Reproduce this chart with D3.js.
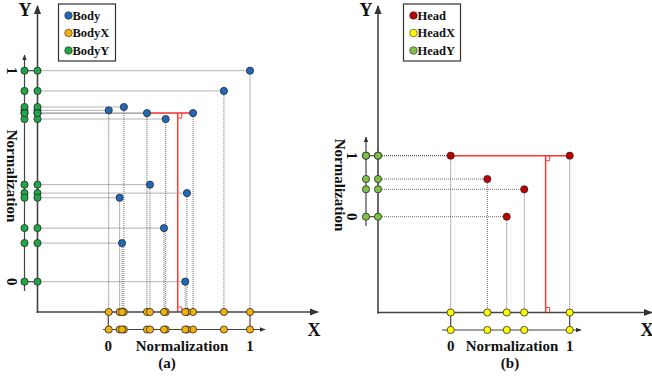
<!DOCTYPE html>
<html>
<head>
<meta charset="utf-8">
<script src="https://cdn.jsdelivr.net/npm/d3@7"></script>
<style>
  body { margin: 0; background: #fff; }
  svg text { font-family: "Liberation Serif", "Times New Roman", serif; font-weight: bold; fill: #111; }
</style>
</head>
<body>
<div id="chart"></div>
<script>
// normalized coordinates
const bodyX = [1, 0.816, 0.003, 0.11, 0.273, 0.405, 0.598, 0.294, 0.555, 0.08, 0.393, 0.097, 0.543];
const bodyY = [1, 0.904, 0.812, 0.828, 0.799, 0.771, 0.799, 0.460, 0.420, 0.398, 0.254, 0.183, 0];
const headX = [0, 1, 0.308, 0.618, 0.471];
const headY = [1, 1, 0.618, 0.449, 0];
// red span: [x start, x end, y, x of vertical]
const bodySpan = [0.273, 0.598, 0.799, 0.49];
const headSpan = [0, 1, 1, 0.798];
const bodyLegend = ["Body", "BodyX", "BodyY"];
const headLegend = ["Head", "HeadX", "HeadY"];
const normTicks = ["0", "1"];

function init() {
    const svg = d3.select("#chart").append("svg")
        .attr("width", 652).attr("height", 379);

    const defs = svg.append("defs");
    defs.append("marker")
        .attr("id", "arrow")
        .attr("viewBox", "0 0 10 10")
        .attr("refX", 9).attr("refY", 5)
        .attr("markerWidth", 9).attr("markerHeight", 9)
        .attr("markerUnits", "userSpaceOnUse")
        .attr("orient", "auto")
        .append("path").attr("d", "M0,1 L10,5 L0,9 Z").attr("fill", "#333");
    defs.append("marker")
        .attr("id", "arrowS")
        .attr("viewBox", "0 0 10 10")
        .attr("refX", 9).attr("refY", 5)
        .attr("markerWidth", 6).attr("markerHeight", 6)
        .attr("markerUnits", "userSpaceOnUse")
        .attr("orient", "auto")
        .append("path").attr("d", "M0,1 L10,5 L0,9 Z").attr("fill", "#333");

    drawPanel(svg, {
        xs: bodyX, ys: bodyY, span: bodySpan, names: bodyLegend,
        colors: ["#1f6ab8", "#f2b10c", "#1fa646"],
        xRange: [108.3, 250], yRange: [281.7, 70.7],
        axX: 37.5, axTop: 6, axY: 312, axRight: 318,
        secX: 24.5, secTop: 55, secBottom: 291,
        secY: 329.5, secLeft: 103, secRight: 265,
        legend: [58.5, 4],
        yLabel: [25, 16], xLabel: [314, 336], sub: "(a)", subPos: [167, 368],
        hLabelX: 182, vLabelX: 12, vLabelY: 176, vTickX: 12
    });

    drawPanel(svg, {
        xs: headX, ys: headY, span: headSpan, names: headLegend,
        colors: ["#c00000", "#ffff00", "#7dc142"],
        xRange: [450.7, 569.7], yRange: [216.7, 155.7],
        axX: 378, axTop: 6, axY: 312.5, axRight: 652,
        secX: 366, secTop: 137, secBottom: 226,
        secY: 330, secLeft: 442, secRight: 581,
        legend: [403.5, 4],
        yLabel: [366, 16], xLabel: [647, 336], sub: "(b)", subPos: [510, 368],
        hLabelX: 512, vLabelX: 340, vLabelY: 185, vTickX: 352
    });
}

function drawPanel(svg, c) {
    const x = d3.scaleLinear().domain([0, 1]).range(c.xRange);
    const y = d3.scaleLinear().domain([0, 1]).range(c.yRange);
    const pts = c.xs.map((v, i) => ({ x: v, y: c.ys[i] }));
    const g = svg.append("g");

    // dotted projection lines
    g.selectAll(".hproj").data(pts).enter().append("line")
        .attr("x1", c.axX).attr("x2", d => x(d.x))
        .attr("y1", d => y(d.y)).attr("y2", d => y(d.y))
        .attr("stroke", "#444").attr("stroke-width", 0.8)
        .attr("stroke-dasharray", "1,1");
    g.selectAll(".vproj").data(pts).enter().append("line")
        .attr("x1", d => x(d.x)).attr("x2", d => x(d.x))
        .attr("y1", d => y(d.y)).attr("y2", c.axY)
        .attr("stroke", "#444").attr("stroke-width", 0.8)
        .attr("stroke-dasharray", "1,1");

    // red span with right-angle marks
    const s = c.span;
    g.append("path")
        .attr("d", `M${x(s[0])},${y(s[2])}H${x(s[1])}M${x(s[3])},${y(s[2])}V${c.axY}`)
        .attr("fill", "none").attr("stroke", "#ff3b3b").attr("stroke-width", 1.5);
    g.append("path")
        .attr("d", `M${x(s[3])},${y(s[2]) + 5}h4v-5 M${x(s[3])},${c.axY - 5}h4v5`)
        .attr("fill", "none").attr("stroke", "#ff3b3b").attr("stroke-width", 1);

    // connectors from secondary axes at 0 and 1
    [0, 1].forEach(v => {
        g.append("line").attr("x1", c.secX).attr("x2", c.axX)
            .attr("y1", y(v)).attr("y2", y(v))
            .attr("stroke", "#444").attr("stroke-width", 1.2);
        g.append("line").attr("x1", x(v)).attr("x2", x(v))
            .attr("y1", c.axY).attr("y2", c.secY)
            .attr("stroke", "#444").attr("stroke-width", 1.2);
    });

    // main axes
    g.append("line").attr("x1", c.axX).attr("x2", c.axX)
        .attr("y1", c.axY + 1).attr("y2", c.axTop)
        .attr("stroke", "#444").attr("stroke-width", 1.6).attr("marker-end", "url(#arrow)");
    g.append("line").attr("x1", c.axX - 1).attr("x2", c.axRight)
        .attr("y1", c.axY).attr("y2", c.axY)
        .attr("stroke", "#444").attr("stroke-width", 1.6).attr("marker-end", "url(#arrow)");

    // secondary (normalization) axes
    g.append("line").attr("x1", c.secX).attr("x2", c.secX)
        .attr("y1", c.secBottom).attr("y2", c.secTop)
        .attr("stroke", "#444").attr("stroke-width", 1.2).attr("marker-end", "url(#arrowS)");
    g.append("line").attr("x1", c.secLeft).attr("x2", c.secRight)
        .attr("y1", c.secY).attr("y2", c.secY)
        .attr("stroke", "#444").attr("stroke-width", 1.2).attr("marker-end", "url(#arrowS)");

    // projected dots on axes
    const dot = (sel, fill) => sel.attr("r", 3.6).attr("fill", fill)
        .attr("stroke", "#2a2a2a").attr("stroke-width", 0.8);
    [c.axY, c.secY].forEach(yy => {
        dot(g.selectAll(null).data(pts).enter().append("circle")
            .attr("cx", d => x(d.x)).attr("cy", yy), c.colors[1]);
    });
    [c.axX, c.secX].forEach(xx => {
        dot(g.selectAll(null).data(pts).enter().append("circle")
            .attr("cx", xx).attr("cy", d => y(d.y)), c.colors[2]);
    });
    // data points
    dot(g.selectAll(null).data(pts).enter().append("circle")
        .attr("cx", d => x(d.x)).attr("cy", d => y(d.y)), c.colors[0]);

    // tick labels
    normTicks.forEach((t, i) => {
        g.append("text").attr("x", x(i)).attr("y", c.secY + 21)
            .attr("text-anchor", "middle").attr("font-size", 15).text(t);
        g.append("text")
            .attr("transform", `translate(${c.vTickX},${y(i)}) rotate(90)`)
            .attr("text-anchor", "middle").attr("dy", "0.35em")
            .attr("font-size", 15).text(t);
    });
    g.append("text").attr("x", c.hLabelX).attr("y", c.secY + 21)
        .attr("text-anchor", "middle").attr("font-size", 15).text("Normalization");
    g.append("text")
        .attr("transform", `translate(${c.vLabelX},${c.vLabelY}) rotate(90)`)
        .attr("text-anchor", "middle").attr("dy", "0.35em")
        .attr("font-size", 15).text("Normalization");
    g.append("text").attr("x", c.yLabel[0]).attr("y", c.yLabel[1])
        .attr("text-anchor", "middle").attr("font-size", 18).text("Y");
    g.append("text").attr("x", c.xLabel[0]).attr("y", c.xLabel[1])
        .attr("text-anchor", "middle").attr("font-size", 18).text("X");
    g.append("text").attr("x", c.subPos[0]).attr("y", c.subPos[1])
        .attr("text-anchor", "middle").attr("font-size", 15).text(c.sub);

    // legend
    const lg = g.append("g").attr("transform", `translate(${c.legend[0]},${c.legend[1]})`);
    lg.append("rect").attr("width", 57).attr("height", 57)
        .attr("fill", "#fff").attr("stroke", "#333").attr("stroke-width", 1.2);
    c.names.forEach((n, i) => {
        lg.append("circle").attr("cx", 10).attr("cy", 11.5 + i * 17.5).attr("r", 3.8)
            .attr("fill", c.colors[i]).attr("stroke", "#2a2a2a").attr("stroke-width", 0.6);
        lg.append("text").attr("x", 14).attr("y", 11.5 + i * 17.5).attr("dy", "0.35em")
            .attr("font-size", 12.5).text(n);
    });
}

window.onload = init;
</script>
</body>
</html>
